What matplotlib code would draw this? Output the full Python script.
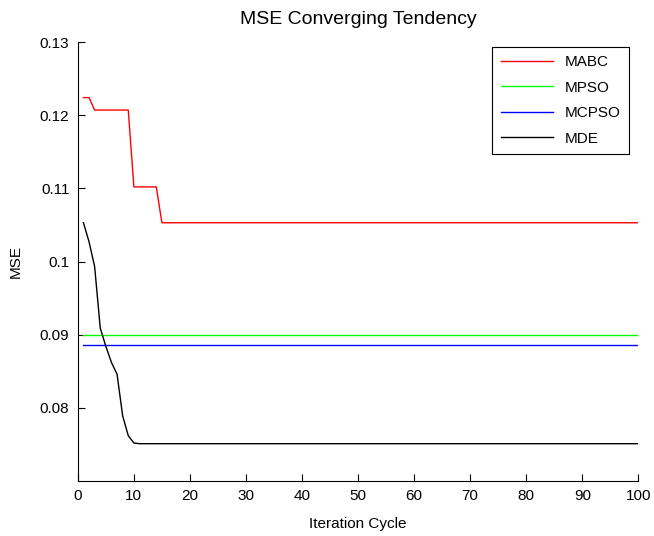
import matplotlib
matplotlib.use("Agg")
import matplotlib.pyplot as plt
import numpy as np

plt.rcParams['font.family'] = ['Liberation Sans', 'DejaVu Sans']

iterations = np.arange(1, 101)

# MABC: stepwise best MSE
mabc_head = [0.1224, 0.1224, 0.1207, 0.1207, 0.1207, 0.1207, 0.1207, 0.1207, 0.1207,
             0.1102, 0.1102, 0.1102, 0.1102, 0.1102]
mabc_tail = 0.1053

# MDE: smooth-ish convergence
mde_head = [0.1053, 0.1027, 0.0993, 0.0909, 0.0884, 0.0862, 0.0846, 0.0789, 0.0762,
            0.0752]
mde_tail = 0.0751

mpso_level = 0.0900
mcpso_level = 0.0886

mabc = mabc_head + [mabc_tail] * (len(iterations) - len(mabc_head))
mde = mde_head + [mde_tail] * (len(iterations) - len(mde_head))
mpso = [mpso_level] * len(iterations)
mcpso = [mcpso_level] * len(iterations)

fig = plt.figure(figsize=(6.54, 5.36), dpi=100)
ax = fig.add_axes([0.119, 0.1026, 0.857, 0.819])

ax.plot(iterations, mabc, color='#ff0000', lw=1.0, label='MABC')
ax.plot(iterations, mpso, color='#00ff00', lw=1.0, label='MPSO')
ax.plot(iterations, mcpso, color='#0000ff', lw=1.0, label='MCPSO')
ax.plot(iterations, mde, color='black', lw=1.0, label='MDE')

ax.set_xlim(0, 100)
ax.set_ylim(0.07, 0.13)
ax.set_xticks(np.arange(0, 101, 10))
ax.set_yticks([0.08, 0.09, 0.1, 0.11, 0.12, 0.13])
ax.set_yticklabels(['0.08', '0.09', '0.1', '0.11', '0.12', '0.13'])

ax.spines['top'].set_visible(False)
ax.spines['right'].set_visible(False)
ax.tick_params(direction='in', length=5, width=0.8, labelsize=11, pad=6)

ax.set_title('MSE Converging Tendency', fontsize=14, pad=13)
ax.set_xlabel('Iteration Cycle', fontsize=11, labelpad=10)
ax.set_ylabel('MSE', fontsize=11, labelpad=12)

leg = ax.legend(loc='upper right', bbox_to_anchor=(0.984, 0.989), fontsize=11,
                frameon=True, fancybox=False, edgecolor='black', framealpha=1,
                handlelength=3.4, borderpad=0.55, labelspacing=0.75, borderaxespad=0)
leg.get_frame().set_linewidth(0.8)

fig.savefig('out.png', dpi=100)
